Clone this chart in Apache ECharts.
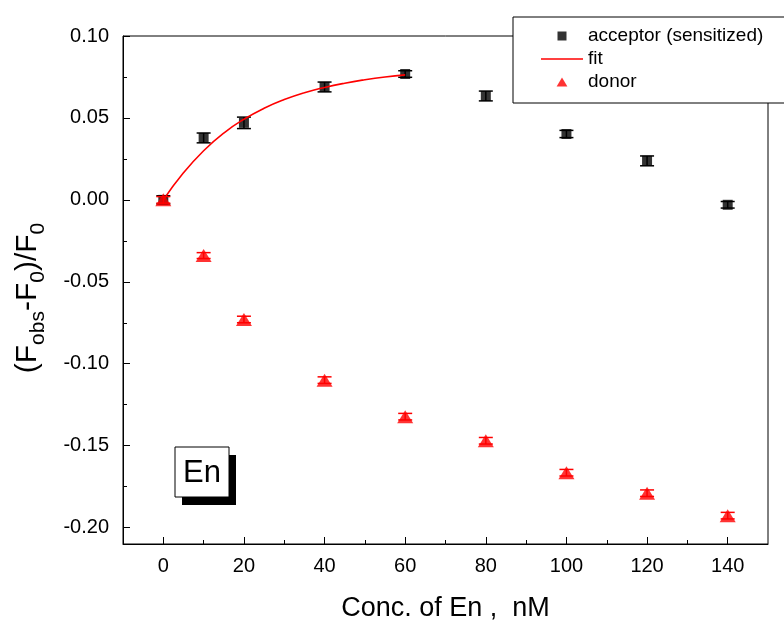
<!DOCTYPE html>
<html>
<head>
<meta charset="utf-8">
<script src="https://cdn.jsdelivr.net/npm/echarts@6/dist/echarts.min.js"></script>
<style>
  html, body { margin: 0; padding: 0; background: #fff; }
  #chart { width: 784px; height: 621px; }
</style>
</head>
<body>
<div id="chart"></div>
<script>
// Concentration of En (nM)
const conc = [0, 10, 20, 40, 60, 80, 100, 120, 140];
// Relative change (Fobs - F0)/F0, sensitized acceptor emission
const acceptor = [0.0000, 0.0378, 0.0470, 0.0689, 0.0768, 0.0634, 0.0402, 0.0238, -0.0030];
const acceptorErr = [0.0025, 0.0030, 0.0035, 0.0030, 0.0020, 0.0030, 0.0022, 0.0030, 0.0020];
// Relative change for donor emission
const donor = [0.0000, -0.0340, -0.0730, -0.1100, -0.1323, -0.1470, -0.1665, -0.1790, -0.1927];
const donorErr = [0.0020, 0.0018, 0.0020, 0.0020, 0.0020, 0.0020, 0.0020, 0.0020, 0.0020];
// Saturation fit through the acceptor points (0–60 nM)
const fitConc = [0, 5, 10, 15, 20, 25, 30, 35, 40, 45, 50, 55, 60];
const fitVal = [0, 0.0165, 0.0300, 0.0408, 0.0492, 0.0559, 0.0612, 0.0654, 0.0686, 0.0712, 0.0733, 0.0750, 0.0763];
// Axis ticks
const xMajor = [0, 20, 40, 60, 80, 100, 120, 140];
const xMinor = [10, 30, 50, 70, 90, 110, 130];
const yMajor = [-0.20, -0.15, -0.10, -0.05, 0.00, 0.05, 0.10];
const yMinor = [-0.175, -0.125, -0.075, -0.025, 0.025, 0.075];

const FONT = 'Liberation Sans, Arial, sans-serif';

function errorBars(color) {
  return function (params, api) {
    const x = api.value(0), y = api.value(1), e = api.value(2);
    const hi = api.coord([x, y + e]);
    const lo = api.coord([x, y - e]);
    const half = 7;
    const style = { stroke: color, lineWidth: 1.5 };
    return {
      type: 'group',
      children: [
        { type: 'line', shape: { x1: hi[0], y1: hi[1], x2: lo[0], y2: lo[1] }, style },
        { type: 'line', shape: { x1: hi[0] - half, y1: hi[1], x2: hi[0] + half, y2: hi[1] }, style },
        { type: 'line', shape: { x1: lo[0] - half, y1: lo[1], x2: lo[0] + half, y2: lo[1] }, style }
      ]
    };
  };
}

const chart = echarts.init(document.getElementById('chart'), null, { renderer: 'canvas' });

chart.setOption({
  animation: false,
  backgroundColor: '#fff',
  textStyle: { fontFamily: FONT },
  grid: {
    left: 123, right: 16, top: 36, bottom: 77,
    containLabel: false,
    outerBoundsMode: 'none',
    show: true, borderColor: '#000', borderWidth: 1, backgroundColor: 'transparent'
  },
  legend: {
    orient: 'vertical',
    left: 513, top: 17,
    padding: [9, 60, 11, 28],
    itemWidth: 42, itemHeight: 9, itemGap: 3,
    symbolKeepAspect: true,
    backgroundColor: '#fff',
    borderColor: '#000', borderWidth: 1,
    textStyle: { fontFamily: FONT, fontSize: 19, color: '#000', lineHeight: 20 },
    data: [
      { name: 'acceptor (sensitized)', icon: 'path://M0,0L10,0L10,10L0,10Z' },
      { name: 'fit', icon: 'path://M0,0L42,0L42,1.6L0,1.6Z' },
      { name: 'donor', icon: 'path://M6,0L12,10L0,10Z' }
    ],
    z: 10
  },
  xAxis: [
    {
      type: 'value', min: -10, max: 150, position: 'bottom',
      axisLine: { show: true, onZero: false, lineStyle: { color: '#000', width: 1 } },
      axisTick: { show: true, inside: true, length: 7, customValues: xMajor, lineStyle: { color: '#000' } },
      axisLabel: { customValues: xMajor, fontSize: 20, color: '#000', margin: 12, fontFamily: FONT },
      splitLine: { show: false },
      name: 'Conc. of En ,  nM',
      nameLocation: 'middle', nameGap: 51,
      nameTextStyle: { fontSize: 27, color: '#000', fontFamily: FONT }
    },
    {
      type: 'value', min: -10, max: 150, position: 'bottom',
      axisLine: { show: false, onZero: false },
      axisTick: { show: true, inside: true, length: 4, customValues: xMinor, lineStyle: { color: '#000' } },
      axisLabel: { show: false },
      splitLine: { show: false }
    }
  ],
  yAxis: [
    {
      type: 'value', min: -0.21, max: 0.10, position: 'left',
      axisLine: { show: true, onZero: false, lineStyle: { color: '#000', width: 1 } },
      axisTick: { show: true, inside: true, length: 7, customValues: yMajor, lineStyle: { color: '#000' } },
      axisLabel: {
        customValues: yMajor, fontSize: 20, color: '#000', margin: 14, fontFamily: FONT,
        formatter: v => v.toFixed(2)
      },
      splitLine: { show: false },
      name: '(F{sub|obs}-F{sub|0})/F{sub|0}',
      nameLocation: 'middle', nameRotate: 90, nameGap: 74,
      nameTextStyle: {
        fontSize: 30, color: '#000', fontFamily: FONT, lineHeight: 42,
        padding: [0, 16, 0, 0],
        rich: { sub: { fontSize: 21, fontFamily: FONT, color: '#000', lineHeight: 21, verticalAlign: 'bottom' } }
      }
    },
    {
      type: 'value', min: -0.21, max: 0.10, position: 'left',
      axisLine: { show: false, onZero: false },
      axisTick: { show: true, inside: true, length: 4, customValues: yMinor, lineStyle: { color: '#000' } },
      axisLabel: { show: false },
      splitLine: { show: false }
    }
  ],
  series: [
    {
      type: 'custom', name: 'acceptorErr', xAxisIndex: 0, yAxisIndex: 0,
      renderItem: errorBars('#000'),
      encode: { x: 0, y: 1 },
      data: conc.map((c, i) => [c, acceptor[i], acceptorErr[i]]),
      z: 2
    },
    {
      type: 'scatter', name: 'acceptor (sensitized)',
      symbol: 'rect', symbolSize: 10,
      itemStyle: { color: '#000' },
      data: conc.map((c, i) => [c, acceptor[i]]),
      z: 3
    },
    {
      type: 'line', name: 'fit', smooth: true, symbol: 'none', showSymbol: false,
      lineStyle: { color: '#ff0000', width: 1.6 },
      itemStyle: { color: '#ff0000' },
      data: fitConc.map((c, i) => [c, fitVal[i]]),
      z: 4
    },
    {
      type: 'custom', name: 'donorErr', xAxisIndex: 0, yAxisIndex: 0,
      renderItem: errorBars('#ff0000'),
      encode: { x: 0, y: 1 },
      data: conc.map((c, i) => [c, donor[i], donorErr[i]]),
      z: 5
    },
    {
      type: 'scatter', name: 'donor',
      symbol: 'triangle', symbolSize: [16, 13],
      itemStyle: { color: '#ff0000' },
      data: conc.map((c, i) => [c, donor[i]]),
      z: 6
    }
  ],
  graphic: [
    { type: 'rect', shape: { x: 182, y: 455, width: 54, height: 50 }, style: { fill: '#000' }, z: 20 },
    { type: 'rect', shape: { x: 175, y: 447, width: 54, height: 50 }, style: { fill: '#fff', stroke: '#000', lineWidth: 1 }, z: 21 },
    {
      type: 'text', x: 202, y: 473, z: 22,
      style: { text: 'En', font: '31px ' + FONT, fill: '#000', textAlign: 'center', textVerticalAlign: 'middle' }
    }
  ]
});
</script>
</body>
</html>
